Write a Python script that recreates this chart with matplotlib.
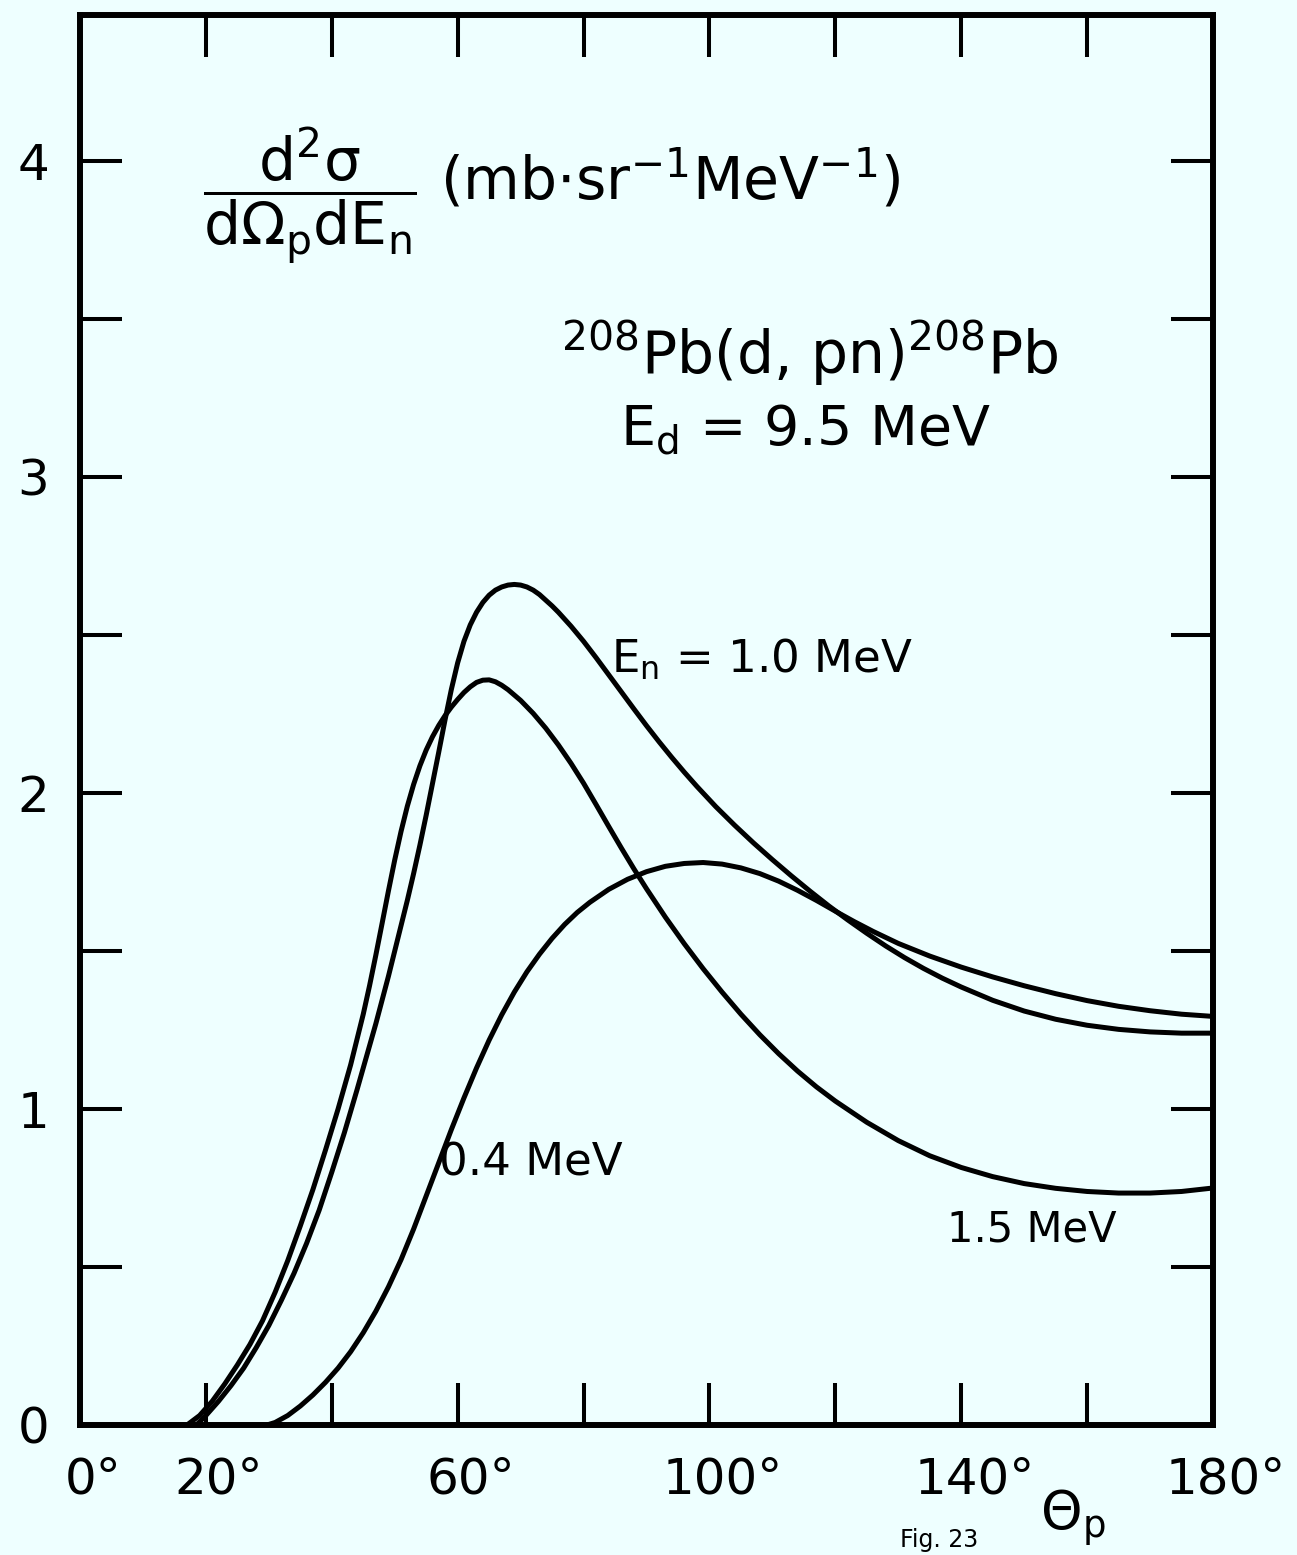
import matplotlib
matplotlib.use("Agg")
import matplotlib.pyplot as plt
from matplotlib.transforms import ScaledTranslation

plt.rcParams['font.family'] = ['DejaVu Sans']
plt.rcParams['mathtext.fontset'] = 'dejavusans'
plt.rcParams['mathtext.default'] = 'regular'

# ---------------- data ----------------
theta_15 = [17, 19, 21, 23, 25, 27, 29, 31, 33, 35, 37, 39, 41, 43, 45, 46, 47, 48,
            49, 50, 51, 52, 53, 54, 55, 56, 57, 58, 59, 60, 61, 62, 63, 64, 65, 66,
            67, 68, 70, 72, 74, 76, 78, 80, 82, 84, 86, 88, 90, 93, 96, 99, 102, 105,
            108, 111, 114, 117, 120, 125, 130, 135, 140, 145, 150, 155, 160, 165,
            170, 175, 180]
sigma_15 = [0.0, 0.03, 0.075, 0.13, 0.19, 0.255, 0.33, 0.42, 0.52, 0.63, 0.745,
            0.87, 1.00, 1.14, 1.30, 1.39, 1.487, 1.588, 1.69, 1.788, 1.878, 1.958,
            2.027, 2.086, 2.136, 2.178, 2.214, 2.245, 2.272, 2.296, 2.318, 2.336,
            2.35, 2.357, 2.358, 2.352, 2.341, 2.327, 2.293, 2.252, 2.205, 2.152,
            2.094, 2.031, 1.963, 1.894, 1.826, 1.76, 1.697, 1.607, 1.523, 1.444,
            1.37, 1.30, 1.235, 1.175, 1.12, 1.07, 1.025, 0.958, 0.90, 0.852, 0.815,
            0.786, 0.764, 0.749, 0.739, 0.734, 0.734, 0.739, 0.75]

theta_10 = [18.5, 20, 22, 24, 26, 28, 30, 32, 34, 36, 38, 40, 42, 44, 46, 47, 48,
            49, 50, 51, 52, 53, 54, 55, 56, 57, 58, 59, 60, 61, 62, 63, 64, 65, 66,
            67, 68, 69, 70, 71, 72, 73, 74, 75, 76, 78, 80, 82, 84, 86, 88, 90, 92,
            94, 96, 98, 101, 104, 107, 110, 113, 116, 119, 122, 125, 128, 131, 134,
            137, 140, 145, 150, 155, 160, 165, 170, 175, 180]
sigma_10 = [0.0, 0.03, 0.075, 0.125, 0.18, 0.245, 0.315, 0.395, 0.48, 0.575, 0.68,
            0.80, 0.925, 1.06, 1.20, 1.27, 1.345, 1.42, 1.50, 1.58, 1.66, 1.745,
            1.835, 1.93, 2.03, 2.13, 2.232, 2.328, 2.412, 2.48, 2.532, 2.572, 2.603,
            2.626, 2.642, 2.652, 2.658, 2.66, 2.658, 2.652, 2.642, 2.628, 2.61,
            2.592, 2.572, 2.528, 2.48, 2.428, 2.374, 2.32, 2.266, 2.213, 2.162,
            2.113, 2.066, 2.021, 1.957, 1.898, 1.842, 1.789, 1.738, 1.689, 1.642,
            1.598, 1.556, 1.516, 1.479, 1.445, 1.414, 1.386, 1.344, 1.31, 1.284,
            1.265, 1.252, 1.244, 1.24, 1.24]

theta_04 = [29.7, 31, 33, 35, 37, 39, 41, 43, 45, 47, 49, 51, 53, 55, 57, 59, 61,
            63, 65, 67, 69, 71, 73, 75, 77, 79, 81, 84, 87, 90, 93, 96, 99, 102,
            105, 108, 111, 114, 117, 120, 123, 126, 130, 135, 140, 145, 150, 155,
            160, 165, 170, 175, 180]
sigma_04 = [0.0, 0.008, 0.03, 0.06, 0.095, 0.135, 0.18, 0.232, 0.292, 0.36, 0.437,
            0.523, 0.62, 0.725, 0.83, 0.935, 1.035, 1.13, 1.218, 1.298, 1.37, 1.434,
            1.49, 1.54, 1.584, 1.622, 1.654, 1.695, 1.727, 1.751, 1.768, 1.777,
            1.78, 1.775, 1.763, 1.745, 1.721, 1.692, 1.66, 1.626, 1.593, 1.562,
            1.524, 1.484, 1.449, 1.418, 1.39, 1.365, 1.343, 1.325, 1.311, 1.30, 1.293]

x_ticks = [0, 20, 40, 60, 80, 100, 120, 140, 160, 180]
x_labels = ['0°', '20°', '', '60°', '', '100°', '', '140°', '', '180°']
y_ticks = [0, 0.5, 1, 1.5, 2, 2.5, 3, 3.5, 4]
y_labels = ['0', '', '1', '', '2', '', '3', '', '4']

# ---------------- figure ----------------
W, H = 1297, 1555
bg = '#eeffff'
fig = plt.figure(figsize=(W / 100, H / 100), dpi=100, facecolor=bg)
ax = fig.add_axes([80 / W, 130 / H, (1213 - 80) / W, (1425 - 15) / H])
ax.set_facecolor(bg)

lw = 3.6
for th, sg in [(theta_15, sigma_15), (theta_10, sigma_10), (theta_04, sigma_04)]:
    ax.plot(th, sg, color='black', lw=lw, solid_capstyle='round', solid_joinstyle='round')

ax.set_xlim(0, 180)
ax.set_ylim(0, 4.462)

for sp in ax.spines.values():
    sp.set_linewidth(4.3)

ax.set_xticks(x_ticks)
ax.set_xticklabels(x_labels, fontsize=36)
ax.set_yticks(y_ticks)
ax.set_yticklabels(y_labels, fontsize=36)
ax.tick_params(axis='both', direction='in', length=30, width=2.9, top=True, right=True)
ax.tick_params(axis='x', pad=22)
ax.tick_params(axis='y', pad=22)
for lab in ax.get_xticklabels():
    lab.set_transform(lab.get_transform() + ScaledTranslation(13 / 100, 0, fig.dpi_scale_trans))

# ---------------- annotations ----------------
ax.text(0.203, 0.872, r'$\dfrac{d^2\sigma}{d\Omega_p dE_n}$', transform=ax.transAxes,
        fontsize=42, ha='center', va='center')
ax.text((440 - 80) / 6.3, (1425 - 200) / 316, r'(mb$\cdot$sr$^{-1}$MeV$^{-1}$)',
        fontsize=42, ha='left', va='baseline')
ax.text(115.9, 3.325, r'$^{208}$Pb(d, pn)$^{208}$Pb', fontsize=42, ha='center', va='baseline')
ax.text(115.2, 3.10, r'E$_d$ = 9.5 MeV', fontsize=40, ha='center', va='baseline')
ax.text(84.4, 2.38, r'E$_n$ = 1.0 MeV', fontsize=32.5, ha='left', va='baseline')
ax.text(57.1, 0.79, '0.4 MeV', fontsize=32.5, ha='left', va='baseline')
ax.text(137.8, 0.58, '1.5 MeV', fontsize=30, ha='left', va='baseline')

fig.text(1040 / W, 1 - 1530 / H, r'$\Theta_p$', fontsize=38, ha='left', va='baseline')
fig.text(900 / W, 3 / H, 'Fig. 23', fontsize=17, ha='left', va='bottom')

fig.savefig('out.png', dpi=100, facecolor=bg)
